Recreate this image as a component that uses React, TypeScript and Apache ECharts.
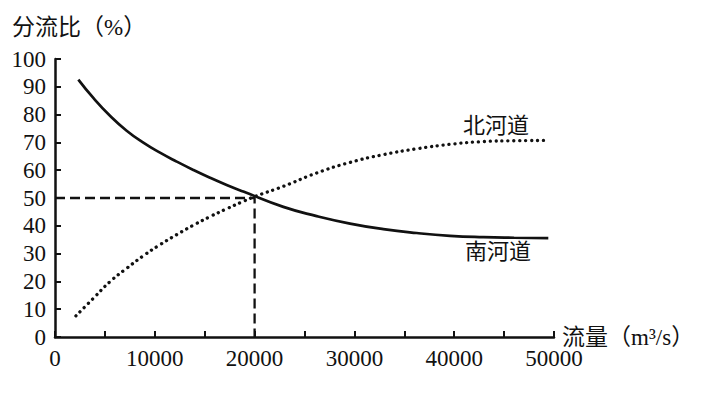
import React, { useEffect, useRef } from "react";
import * as echarts from "echarts";

const northX = [2100, 3840, 5510, 7180, 8850, 10520, 12190, 13860, 15530, 17200, 18870, 20000, 22880, 26220, 29560, 32900, 36240, 39580, 42920, 46000, 49100];
const northY = [7.6, 13.9, 19.9, 24.7, 29.2, 33.2, 36.8, 40.2, 43.3, 46.1, 48.8, 50.5, 54.2, 59.0, 62.8, 65.6, 67.7, 69.3, 70.3, 70.6, 70.7];
const southX = [2340, 3840, 5510, 7180, 8850, 10520, 12190, 13860, 15530, 17200, 18870, 22880, 26220, 29560, 32900, 36240, 39580, 42920, 46000, 49430];
const southY = [92.6, 86.0, 79.6, 74.2, 69.9, 66.3, 63.1, 60.1, 57.3, 54.7, 52.3, 46.8, 43.5, 40.8, 38.8, 37.4, 36.4, 35.9, 35.7, 35.6];
const refX = [0, 20000, 20000];
const refY = [50, 50, 0];

const serif = "'Liberation Serif', 'Times New Roman', 'Noto Sans CJK SC', serif";

export default function App() {
  const ref = useRef<HTMLDivElement>(null);
  useEffect(() => {
    const chart = echarts.init(ref.current!, null, { renderer: "svg" });
    const zip = (xs: number[], ys: number[]) => xs.map((x, i) => [x, ys[i]]);
    chart.setOption({
      animation: false,
      grid: { left: 55, right: 150, top: 59, bottom: 63, outerBoundsMode: "none", containLabel: false },
      xAxis: {
        type: "value",
        min: 0,
        max: 50000,
        interval: 5000,
        name: "流量（m³/s）",
        nameLocation: "end",
        nameGap: 8,
        nameMoveOverlap: false,
        nameTextStyle: { color: "#111", fontSize: 23, fontFamily: serif, verticalAlign: "middle" },
        axisLine: { lineStyle: { color: "#111", width: 2.5 } },
        axisTick: { inside: true, length: 6, lineStyle: { color: "#111", width: 2 } },
        axisLabel: {
          color: "#111",
          fontSize: 23,
          fontFamily: serif,
          margin: 10,
          formatter: (v: number) => (v % 10000 === 0 ? String(v) : ""),
        },
        splitLine: { show: false },
      },
      yAxis: {
        type: "value",
        min: 0,
        max: 100,
        interval: 10,
        axisLine: { show: true, lineStyle: { color: "#111", width: 2.5 } },
        axisTick: { show: true, inside: true, length: 6, lineStyle: { color: "#111", width: 2 } },
        axisLabel: { color: "#111", fontSize: 23, fontFamily: serif, margin: 9 },
        splitLine: { show: false },
      },
      graphic: [
        {
          type: "text",
          left: 12,
          top: 16,
          style: { text: "分流比（%）", fontSize: 23, fontFamily: serif, fill: "#111" },
        },
        {
          type: "text",
          left: 463,
          top: 114,
          style: { text: "北河道", fontSize: 22, fontFamily: serif, fill: "#111" },
        },
        {
          type: "text",
          left: 465,
          top: 240,
          style: { text: "南河道", fontSize: 22, fontFamily: serif, fill: "#111" },
        },
      ],
      series: [
        {
          name: "南河道",
          type: "line",
          smooth: 0.5,
          showSymbol: false,
          data: zip(southX, southY),
          lineStyle: { color: "#111", width: 2.7 },
        },
        {
          name: "北河道",
          type: "line",
          smooth: 0.5,
          showSymbol: false,
          data: zip(northX, northY),
          lineStyle: { color: "#111", width: 3.3, type: [0.1, 5.8], cap: "round" },
        },
        {
          name: "ref",
          type: "line",
          showSymbol: false,
          data: zip(refX, refY),
          lineStyle: { color: "#111", width: 2.3, type: [10, 5] },
        },
      ],
    });
    return () => chart.dispose();
  }, []);
  return <div ref={ref} style={{ width: 704, height: 400, position: "absolute", left: 0, top: 0 }} />;
}
